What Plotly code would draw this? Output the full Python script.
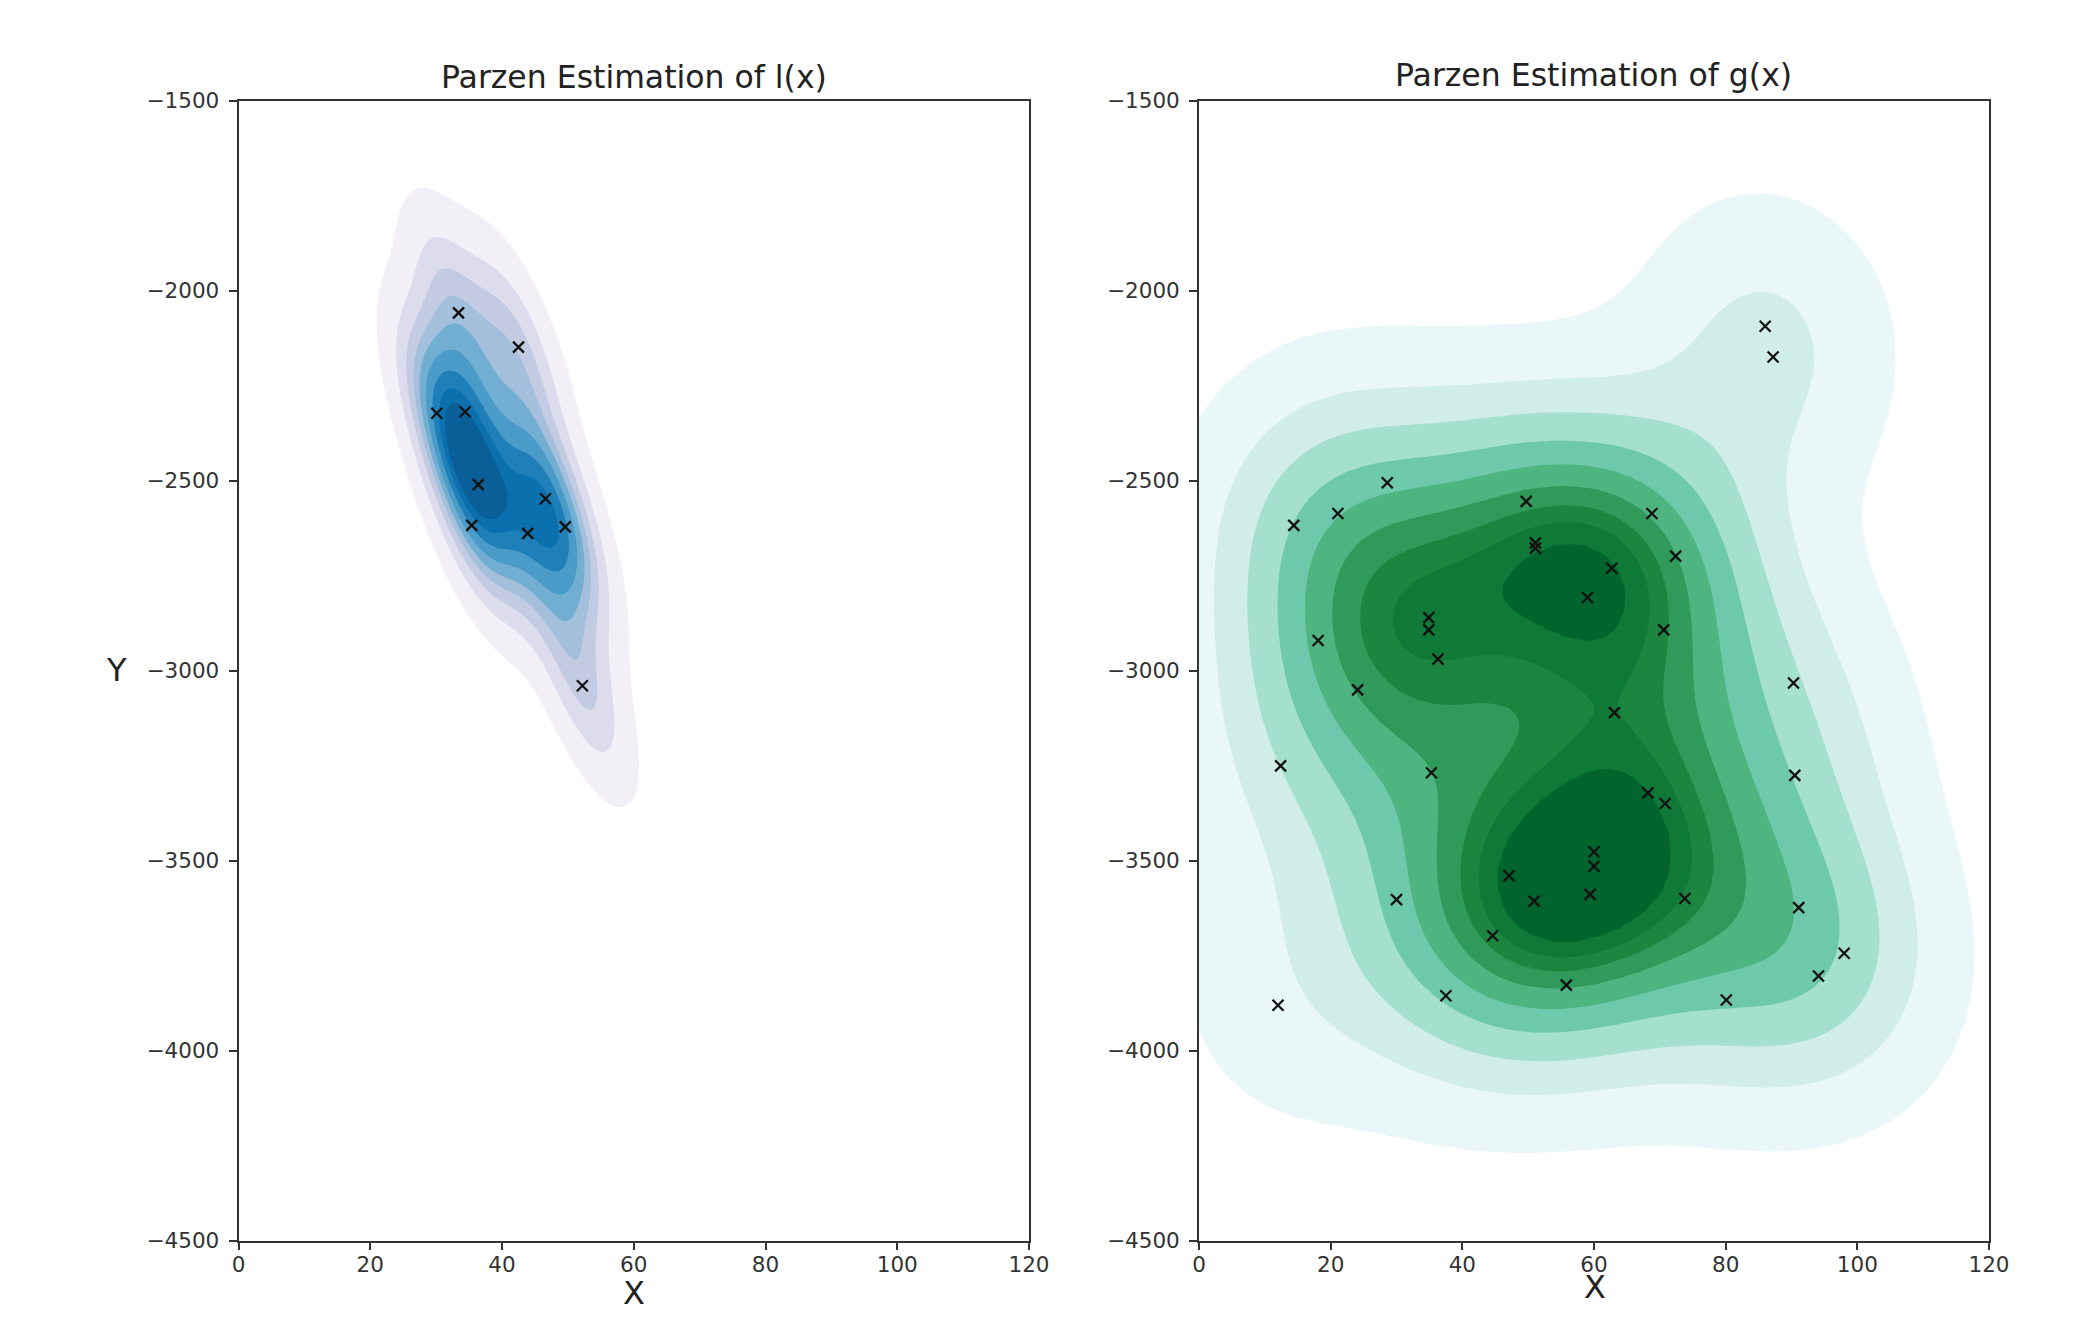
import numpy as np
import plotly.graph_objects as go

# Points
lx_x = [33.4, 42.5, 30.1, 34.4, 36.4, 46.6, 35.4, 43.9, 49.6, 52.2]
lx_y = [-2059, -2149, -2323, -2319, -2511, -2548, -2618, -2639, -2622, -3040]

gx_x = [86.0, 87.2, 28.6, 49.7, 68.8, 21.1, 14.4, 72.4, 51.1, 51.1, 62.7, 59.0, 34.9, 34.9, 70.6, 18.1, 36.3, 24.1, 90.3, 63.1,
        12.4, 35.3, 90.5, 68.2, 70.8, 60.0, 60.0, 47.1, 59.4, 50.9, 30.0, 73.8, 91.1, 98.0, 44.6, 94.1, 55.8, 37.5, 80.1, 12.0]
gx_y = [-2094, -2175, -2506, -2555, -2587, -2587, -2618, -2699, -2664, -2678, -2731, -2808, -2861, -2893, -2893, -2921, -2970, -3051, -3033, -3111,
        -3251, -3269, -3276, -3322, -3350, -3477, -3515, -3540, -3589, -3607, -3603, -3600, -3624, -3744, -3698, -3804, -3828, -3856, -3867, -3881]

x_ticks = [0, 20, 40, 60, 80, 100, 120]
y_ticks = [-1500, -2000, -2500, -3000, -3500, -4000, -4500]

blues = ["#ffffff", "#f3eff7", "#dcdcec", "#c2cbe2", "#a3bfdb", "#72aed2", "#4a9bc8", "#1f80b9", "#0b71ae", "#0a5f98"]
greens = ["#ffffff", "#e9f7f9", "#d1ede7", "#a5dfcd", "#6ec8ac", "#4eb581", "#2f9a5a", "#1c8540", "#0f7a38", "#00642c"]

W, H = 2095, 1334
L0, L1, R0, R1 = 238.5, 1029, 1199, 1989
T, B = 100.5, 1240.5


def kde(px, py):
    pts = np.vstack([px, py])
    n = pts.shape[1]
    cov = np.cov(pts) * n ** (-2 / 6)
    inv = np.linalg.inv(cov)
    norm = 1 / (n * 2 * np.pi * np.sqrt(np.linalg.det(cov)))
    sx, sy = np.sqrt(cov[0, 0]), np.sqrt(cov[1, 1])
    gx = np.linspace(px.min() - 3 * sx, px.max() + 3 * sx, 200)
    gy = np.linspace(py.min() - 3 * sy, py.max() + 3 * sy, 200)
    X, Y = np.meshgrid(gx, gy)
    Z = np.zeros_like(X, dtype=float)
    for a, b in zip(px, py):
        dx, dy = X - a, Y - b
        Z += np.exp(-0.5 * (inv[0, 0] * dx * dx + 2 * inv[0, 1] * dx * dy + inv[1, 1] * dy * dy))
    return gx, gy, Z * norm


def iso_levels(Z, props):
    v = np.sort(Z.ravel())
    c = np.cumsum(v)
    c = c / c[-1]
    return np.interp(props, c, v)


def stepped(cols):
    n = len(cols)
    out = []
    for i, c in enumerate(cols):
        out += [[i / n, c], [(i + 1) / n, c]]
    return out


fig = go.Figure()
for idx, (px, py, cols) in enumerate([(lx_x, lx_y, blues), (gx_x, gx_y, greens)]):
    gx, gy, Z = kde(np.array(px), np.array(py))
    lev = iso_levels(Z, np.linspace(0.05, 1, 10))
    # iso-mass levels are unevenly spaced; contour them on an index scale
    Zi = np.interp(Z, np.r_[0, lev], np.arange(-1, 10))
    fig.add_trace(go.Contour(x=gx, y=gy, z=Zi, autocontour=False, showscale=False, hoverinfo="skip",
                             contours=dict(start=0, end=8, size=1, coloring="fill", showlines=False),
                             line=dict(width=0), colorscale=stepped(cols), zauto=False, zmin=-1, zmax=9,
                             xaxis="x" if idx == 0 else "x2", yaxis="y" if idx == 0 else "y2"))
    fig.add_trace(go.Scatter(x=px, y=py, mode="markers", showlegend=False, hoverinfo="skip",
                             marker=dict(symbol="x-thin", size=11, line=dict(width=2.3, color="#111111"), color="#111111"),
                             xaxis="x" if idx == 0 else "x2", yaxis="y" if idx == 0 else "y2"))

tickfont = dict(family="DejaVu Sans", size=21.5, color="#333333")
ax = dict(showgrid=False, zeroline=False, showline=True, mirror=True, linecolor="#333333", linewidth=1.8, automargin=False,
          ticks="outside", ticklen=8, tickwidth=1.5, tickcolor="#333333", tickfont=tickfont, layer="above traces")
fig.update_layout(
    width=W, height=H, autosize=False, margin=dict(l=0, r=0, t=0, b=0), paper_bgcolor="white", plot_bgcolor="white",
    showlegend=False,
    xaxis=dict(ax, domain=[L0 / W, L1 / W], range=[0, 120], tickvals=x_ticks, anchor="y", ticklabelstandoff=-4),
    yaxis=dict(ax, domain=[1 - B / H, 1 - T / H], range=[-4500, -1500], tickvals=y_ticks, tickformat="d", anchor="x", ticklabelstandoff=5),
    xaxis2=dict(ax, domain=[R0 / W, R1 / W], range=[0, 120], tickvals=x_ticks, anchor="y2", ticklabelstandoff=-4),
    yaxis2=dict(ax, domain=[1 - B / H, 1 - T / H], range=[-4500, -1500], tickvals=y_ticks, tickformat="d", anchor="x2", ticklabelstandoff=5),
)


def label(text, px, py, size):
    fig.add_annotation(text=text, x=px / W, y=1 - py / H, xref="paper", yref="paper", showarrow=False,
                       xanchor="center", yanchor="middle", font=dict(family="DejaVu Sans", size=size, color="#222222"))


label("Parzen Estimation of l(x)", 634, 77, 31.5)
label("Parzen Estimation of g(x)", 1593, 75, 31.5)
label("X", 634, 1293, 32)
label("X", 1595, 1287, 32)
label("Y", 116, 670, 32)

fig.write_html("out.html", config=dict(displayModeBar=False), post_script="document.body.style.margin='0';")
